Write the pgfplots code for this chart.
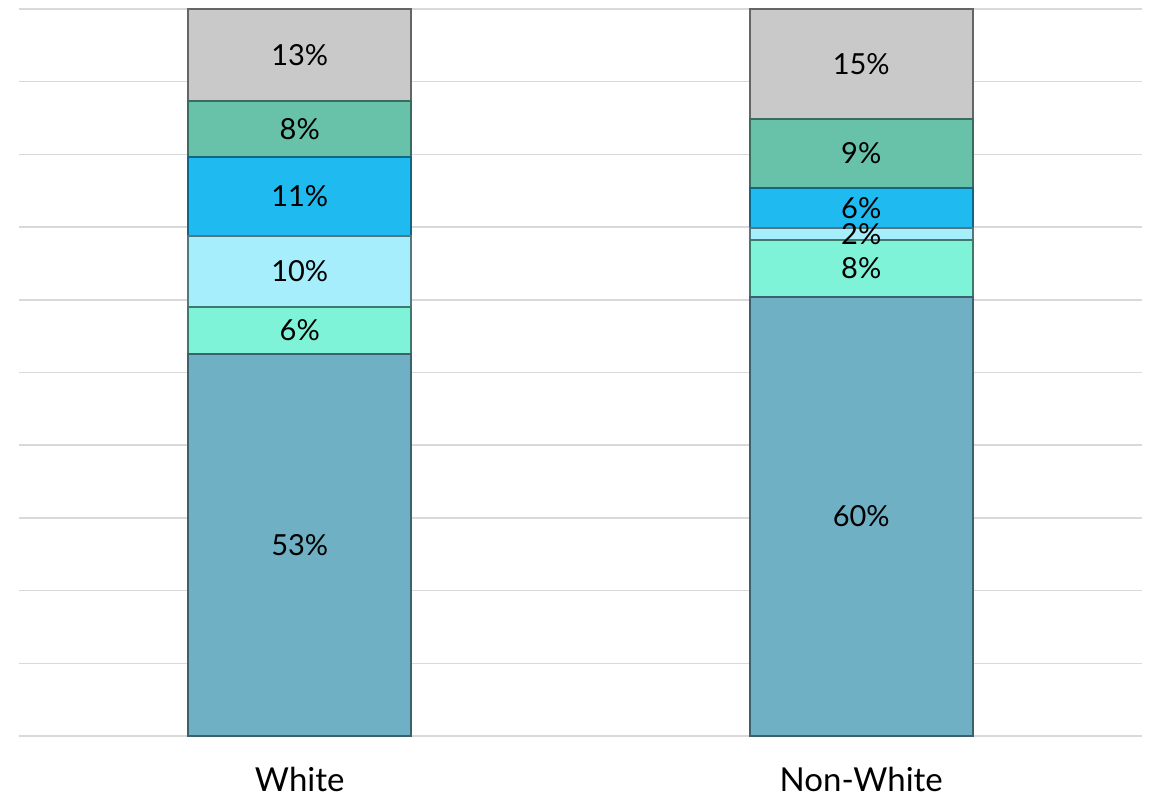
\documentclass[border=0pt]{standalone}
\usepackage{pgfplots}
\pgfplotsset{compat=1.18}
\usepackage{pgfplotstable}
\usepackage{fontspec}
\setmainfont{Lato}
\definecolor{c1}{HTML}{6FB0C4}
\definecolor{c2}{HTML}{7FF3D7}
\definecolor{c3}{HTML}{A6EEFB}
\definecolor{c4}{HTML}{1EBAF0}
\definecolor{c5}{HTML}{68C2AA}
\definecolor{c6}{HTML}{C9C9C9}
\definecolor{gridc}{HTML}{D9D9D9}
% segment values (percent) per group
\pgfplotstableread{
x s1 s2 s3 s4 s5 s6
0 52.6 6.4 9.8 10.9 7.6 12.7
1 60.4 7.8 1.7 5.5 9.5 15.1
}\data
% label positions (segment midpoints) and printed labels
\pgfplotstableread{
x m l
0 26.3 53
0 55.8 6
0 63.9 10
0 74.25 11
0 83.5 8
0 93.65 13
1 30.2 60
1 64.3 8
1 69.05 2
1 72.65 6
1 80.15 9
1 92.45 15
}\labels
\pgfplotsset{common/.style={
  scale only axis, width=1123pt, height=727pt,
  xmin=-0.5, xmax=1.5, ymin=0, ymax=100}}
\begin{document}
\begin{tikzpicture}
\begin{axis}[
  common,
  ybar stacked, bar width=223pt,
  axis line style={draw=none},
  ytick={0,10,...,100}, yticklabels={},
  ymajorgrids, grid style={gridc, line width=1.5pt},
  major tick length=0pt,
  xtick={0,1}, xticklabels={White,Non-White},
  x tick label style={font=\fontsize{33}{38}\selectfont, yshift=-28pt},
]
\addplot[fill=c1, draw=c1!55!black, line width=2pt] table[x=x, y=s1] {\data};
\addplot[fill=c2, draw=c2!50!black, line width=2pt] table[x=x, y=s2] {\data};
\addplot[fill=c3, draw=c3!50!black, line width=2pt] table[x=x, y=s3] {\data};
\addplot[fill=c4, draw=c4!55!black, line width=2pt] table[x=x, y=s4] {\data};
\addplot[fill=c5, draw=c5!55!black, line width=2pt] table[x=x, y=s5] {\data};
\addplot[fill=c6, draw=c6!50!black, line width=2pt] table[x=x, y=s6] {\data};
\end{axis}
\begin{axis}[common, hide axis]
\addplot[only marks, mark=none, point meta=explicit symbolic,
  nodes near coords={\pgfplotspointmeta\%},
  every node near coord/.append style={font=\fontsize{29}{34}\selectfont, anchor=center, inner sep=0pt}]
  table[x=x, y=m, meta=l] {\labels};
\end{axis}
\path[use as bounding box] ([xshift=-19pt,yshift=-61pt]current axis.south west) rectangle ([xshift=10pt,yshift=9pt]current axis.north east);
\end{tikzpicture}
\end{document}
